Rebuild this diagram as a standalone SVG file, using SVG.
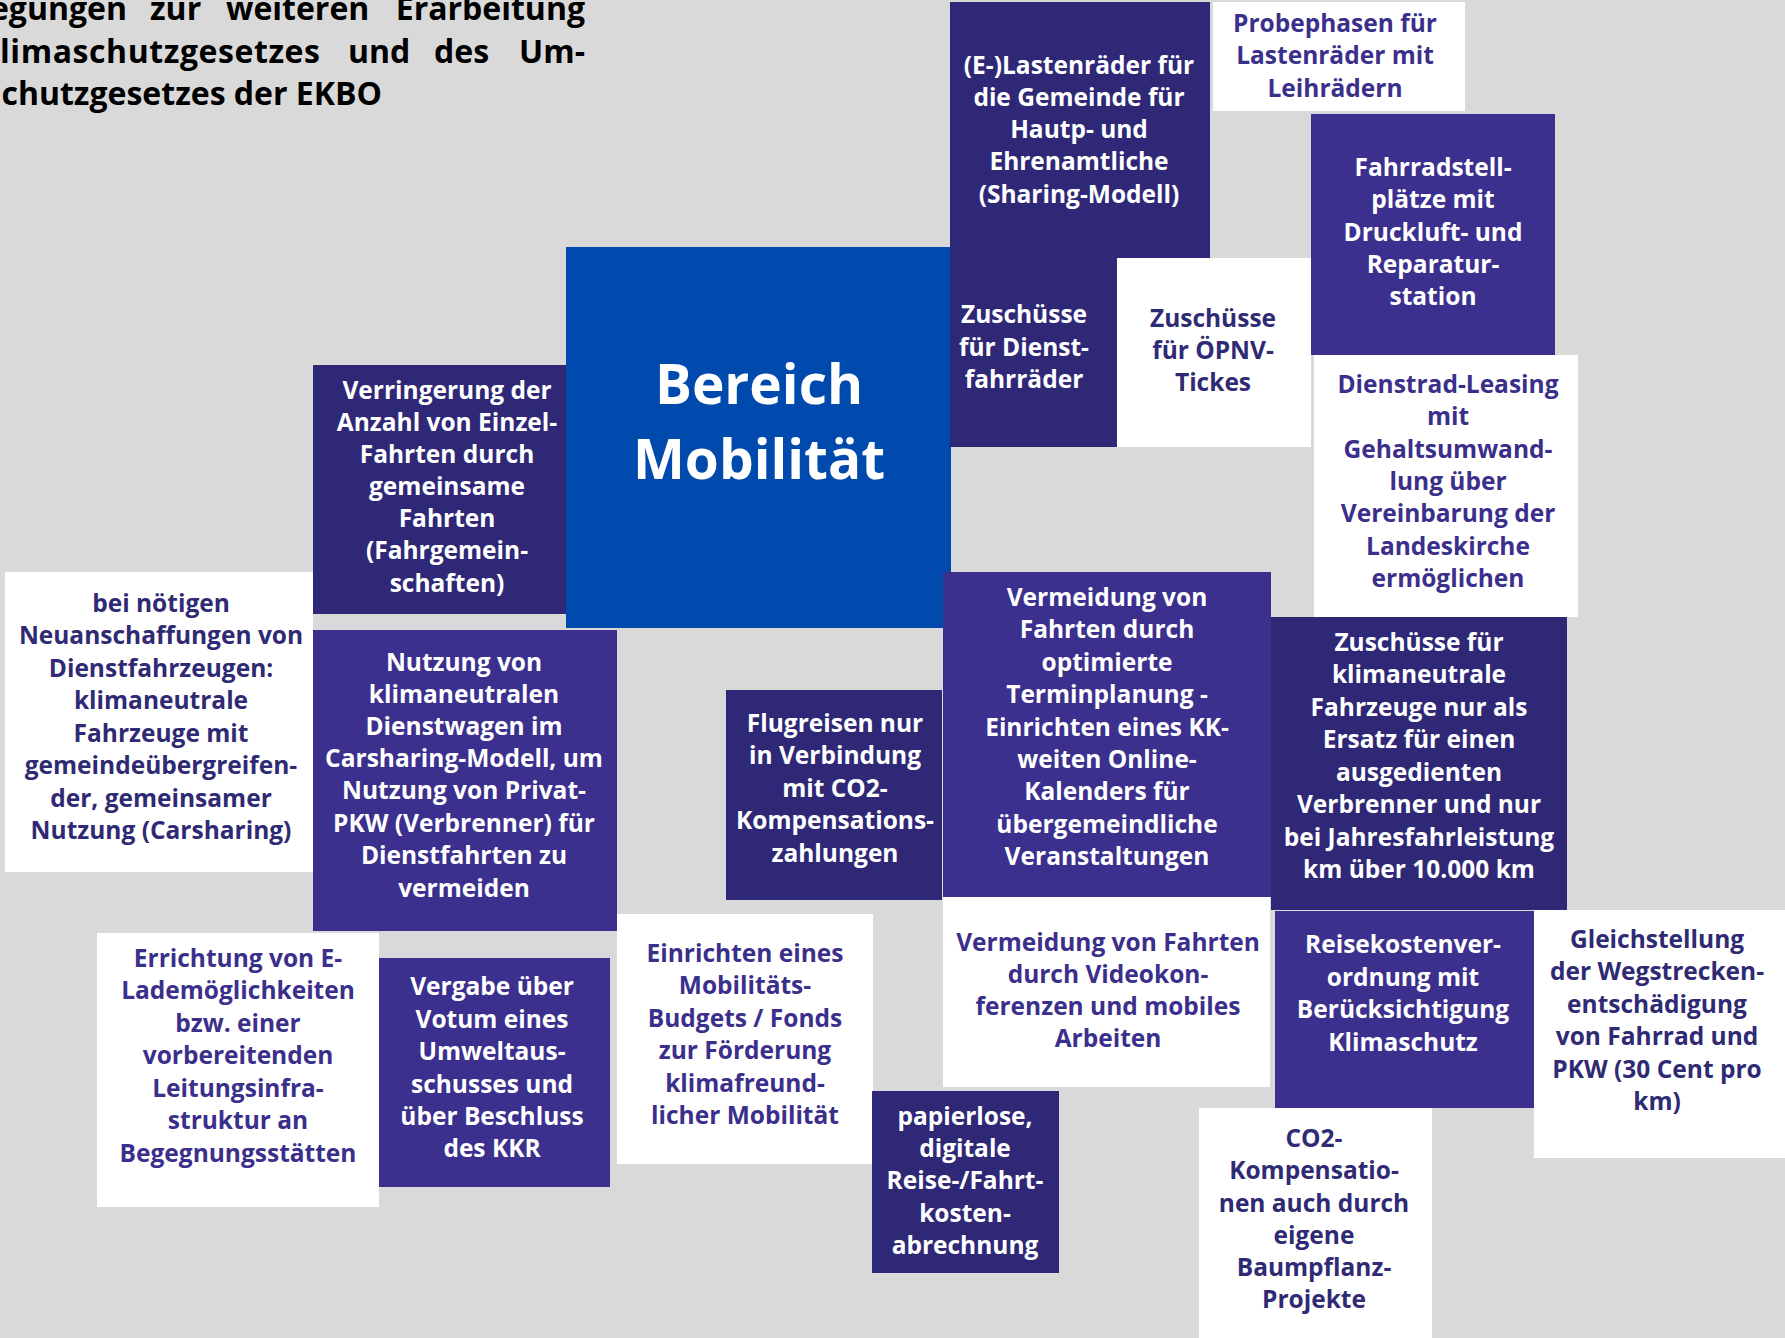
<svg xmlns="http://www.w3.org/2000/svg" width="1785" height="1338" viewBox="0 0 1785 1338">
<style>
.bg{fill:#d9d9d9}
.navy{fill:#2f2877}
.purple{fill:#3c308e}
.blue{fill:#004aad}
.white{fill:#ffffff}
.t{font-family:"Open Sans","Liberation Sans",sans-serif;font-weight:700;font-size:24.5px;text-anchor:middle}
.tw{fill:#ffffff}
.td{fill:#2f2a74}
.tp{fill:#3b2f8c}
.title{font-family:"Open Sans","Liberation Sans",sans-serif;font-weight:700;font-size:32px;fill:#000000}
.big{font-family:"Open Sans","Liberation Sans",sans-serif;font-weight:700;font-size:55px;fill:#ffffff;text-anchor:middle}
</style>
<rect class="bg" x="0" y="0" width="1785" height="1338"/>

<g id="title">
<text class="title" y="20"><tspan x="127" text-anchor="end">egungen</tspan><tspan x="150">zur</tspan><tspan x="226">weiteren</tspan><tspan x="585" text-anchor="end">Erarbeitung</tspan></text>
<text class="title" y="63"><tspan x="0" textLength="320" lengthAdjust="spacing">limaschutzgesetzes</tspan><tspan x="348">und</tspan><tspan x="434">des</tspan><tspan x="585" text-anchor="end">Um-</tspan></text>
<text class="title" y="105" x="382" text-anchor="end">chutzgesetzes der EKBO</text>
</g>

<g id="connectors"/>

<g id="node-bereich">
<rect class="blue" x="566" y="247" width="385" height="381"/>
<text class="big" x="759" y="404">Bereich</text>
<text class="big" x="759" y="479">Mobilität</text>
</g>

<g id="node-verringerung">
<rect class="navy" x="313" y="365" width="253" height="249"/>
<text class="t tw" x="447"><tspan x="447" y="399">Verringerung der</tspan><tspan x="447" y="431">Anzahl von Einzel-</tspan><tspan x="447" y="463">Fahrten durch</tspan><tspan x="447" y="495">gemeinsame</tspan><tspan x="447" y="527">Fahrten</tspan><tspan x="447" y="559">(Fahrgemein-</tspan><tspan x="447" y="592">schaften)</tspan></text>
</g>

<g id="node-lastenraeder">
<rect class="navy" x="950" y="2" width="260" height="257"/>
<text class="t tw"><tspan x="1079" y="74">(E-)Lastenräder für</tspan><tspan x="1079" y="106">die Gemeinde für</tspan><tspan x="1079" y="138">Hautp- und</tspan><tspan x="1079" y="170">Ehrenamtliche</tspan><tspan x="1079" y="203">(Sharing-Modell)</tspan></text>
</g>

<g id="node-dienstfahrraeder">
<rect class="navy" x="950" y="258" width="167" height="189"/>
<text class="t tw"><tspan x="1024" y="323">Zuschüsse</tspan><tspan x="1024" y="356">für Dienst-</tspan><tspan x="1024" y="388">fahrräder</tspan></text>
</g>

<g id="node-probephasen">
<rect class="white" x="1213" y="2" width="252" height="109"/>
<text class="t tp"><tspan x="1335" y="32">Probephasen für</tspan><tspan x="1335" y="64">Lastenräder mit</tspan><tspan x="1335" y="97">Leihrädern</tspan></text>
</g>

<g id="node-oepnv">
<rect class="white" x="1117" y="258" width="194" height="189"/>
<text class="t td"><tspan x="1213" y="327">Zuschüsse</tspan><tspan x="1213" y="359">für ÖPNV-</tspan><tspan x="1213" y="391">Tickes</tspan></text>
</g>

<g id="node-fahrradstell">
<rect class="purple" x="1311" y="114" width="244" height="241"/>
<text class="t tw"><tspan x="1433" y="176">Fahrradstell-</tspan><tspan x="1433" y="208">plätze mit</tspan><tspan x="1433" y="241">Druckluft- und</tspan><tspan x="1433" y="273">Reparatur-</tspan><tspan x="1433" y="305">station</tspan></text>
</g>

<g id="node-dienstrad">
<rect class="white" x="1314" y="355" width="264" height="262"/>
<text class="t tp"><tspan x="1448" y="393">Dienstrad-Leasing</tspan><tspan x="1448" y="425">mit</tspan><tspan x="1448" y="458">Gehaltsumwand-</tspan><tspan x="1448" y="490">lung über</tspan><tspan x="1448" y="522">Vereinbarung der</tspan><tspan x="1448" y="555">Landeskirche</tspan><tspan x="1448" y="587">ermöglichen</tspan></text>
</g>

<g id="node-neuanschaffungen">
<rect class="white" x="5" y="572" width="308" height="300"/>
<text class="t td"><tspan x="161" y="612">bei nötigen</tspan><tspan x="161" y="644">Neuanschaffungen von</tspan><tspan x="161" y="677">Dienstfahrzeugen:</tspan><tspan x="161" y="709">klimaneutrale</tspan><tspan x="161" y="742">Fahrzeuge mit</tspan><tspan x="161" y="774">gemeindeübergreifen-</tspan><tspan x="161" y="807">der, gemeinsamer</tspan><tspan x="161" y="839">Nutzung (Carsharing)</tspan></text>
</g>

<g id="node-nutzung">
<rect class="purple" x="313" y="630" width="304" height="301"/>
<text class="t tw"><tspan x="464" y="671">Nutzung von</tspan><tspan x="464" y="703">klimaneutralen</tspan><tspan x="464" y="735">Dienstwagen im</tspan><tspan x="464" y="767">Carsharing-Modell, um</tspan><tspan x="464" y="799">Nutzung von Privat-</tspan><tspan x="464" y="832">PKW (Verbrenner) für</tspan><tspan x="464" y="864">Dienstfahrten zu</tspan><tspan x="464" y="897">vermeiden</tspan></text>
</g>

<g id="node-flugreisen">
<rect class="navy" x="726" y="690" width="216" height="210"/>
<text class="t tw"><tspan x="835" y="732">Flugreisen nur</tspan><tspan x="835" y="764">in Verbindung</tspan><tspan x="835" y="797">mit CO2-</tspan><tspan x="835" y="829">Kompensations-</tspan><tspan x="835" y="862">zahlungen</tspan></text>
</g>

<g id="node-terminplanung">
<rect class="purple" x="943" y="572" width="328" height="325"/>
<text class="t tw"><tspan x="1107" y="606">Vermeidung von</tspan><tspan x="1107" y="638">Fahrten durch</tspan><tspan x="1107" y="671">optimierte</tspan><tspan x="1107" y="703">Terminplanung -</tspan><tspan x="1107" y="736">Einrichten eines KK-</tspan><tspan x="1107" y="768">weiten Online-</tspan><tspan x="1107" y="800">Kalenders für</tspan><tspan x="1107" y="833">übergemeindliche</tspan><tspan x="1107" y="865">Veranstaltungen</tspan></text>
</g>

<g id="node-zuschuesse-fahrzeuge">
<rect class="navy" x="1271" y="617" width="296" height="293"/>
<text class="t tw"><tspan x="1419" y="651">Zuschüsse für</tspan><tspan x="1419" y="683">klimaneutrale</tspan><tspan x="1419" y="716">Fahrzeuge nur als</tspan><tspan x="1419" y="748">Ersatz für einen</tspan><tspan x="1419" y="781">ausgedienten</tspan><tspan x="1419" y="813">Verbrenner und nur</tspan><tspan x="1419" y="846">bei Jahresfahrleistung</tspan><tspan x="1419" y="878">km über 10.000 km</tspan></text>
</g>

<g id="node-errichtung">
<rect class="white" x="97" y="933" width="282" height="274"/>
<text class="t tp"><tspan x="238" y="967">Errichtung von E-</tspan><tspan x="238" y="999">Lademöglichkeiten</tspan><tspan x="238" y="1032">bzw. einer</tspan><tspan x="238" y="1064">vorbereitenden</tspan><tspan x="238" y="1097">Leitungsinfra-</tspan><tspan x="238" y="1129">struktur an</tspan><tspan x="238" y="1162">Begegnungsstätten</tspan></text>
</g>

<g id="node-vergabe">
<rect class="purple" x="379" y="958" width="231" height="229"/>
<text class="t tw"><tspan x="492" y="995">Vergabe über</tspan><tspan x="492" y="1028">Votum eines</tspan><tspan x="492" y="1060">Umweltaus-</tspan><tspan x="492" y="1093">schusses und</tspan><tspan x="492" y="1125">über Beschluss</tspan><tspan x="492" y="1157">des KKR</tspan></text>
</g>

<g id="node-budget">
<rect class="white" x="617" y="914" width="256" height="250"/>
<text class="t tp"><tspan x="745" y="962">Einrichten eines</tspan><tspan x="745" y="994">Mobilitäts-</tspan><tspan x="745" y="1027">Budgets / Fonds</tspan><tspan x="745" y="1059">zur Förderung</tspan><tspan x="745" y="1092">klimafreund-</tspan><tspan x="745" y="1124">licher Mobilität</tspan></text>
</g>

<g id="node-video">
<rect class="white" x="943" y="897" width="327" height="190"/>
<text class="t tp"><tspan x="1108" y="951">Vermeidung von Fahrten</tspan><tspan x="1108" y="983">durch Videokon-</tspan><tspan x="1108" y="1015">ferenzen und mobiles</tspan><tspan x="1108" y="1047">Arbeiten</tspan></text>
</g>

<g id="node-reisekosten">
<rect class="purple" x="1275" y="911" width="259" height="197"/>
<text class="t tw"><tspan x="1403" y="953">Reisekostenver-</tspan><tspan x="1403" y="986">ordnung mit</tspan><tspan x="1403" y="1018">Berücksichtigung</tspan><tspan x="1403" y="1051">Klimaschutz</tspan></text>
</g>

<g id="node-gleichstellung">
<rect class="white" x="1534" y="910" width="251" height="248"/>
<text class="t td"><tspan x="1657" y="948">Gleichstellung</tspan><tspan x="1657" y="980">der Wegstrecken-</tspan><tspan x="1657" y="1013">entschädigung</tspan><tspan x="1657" y="1045">von Fahrrad und</tspan><tspan x="1657" y="1078">PKW (30 Cent pro</tspan><tspan x="1657" y="1110">km)</tspan></text>
</g>

<g id="node-papierlos">
<rect class="navy" x="872" y="1091" width="187" height="182"/>
<text class="t tw"><tspan x="965" y="1125">papierlose,</tspan><tspan x="965" y="1157">digitale</tspan><tspan x="965" y="1189">Reise-/Fahrt-</tspan><tspan x="965" y="1222">kosten-</tspan><tspan x="965" y="1254">abrechnung</tspan></text>
</g>

<g id="node-co2">
<rect class="white" x="1199" y="1108" width="233" height="230"/>
<text class="t td"><tspan x="1314" y="1147">CO2-</tspan><tspan x="1314" y="1179">Kompensatio-</tspan><tspan x="1314" y="1212">nen auch durch</tspan><tspan x="1314" y="1244">eigene</tspan><tspan x="1314" y="1276">Baumpflanz-</tspan><tspan x="1314" y="1308">Projekte</tspan></text>
</g>
</svg>
